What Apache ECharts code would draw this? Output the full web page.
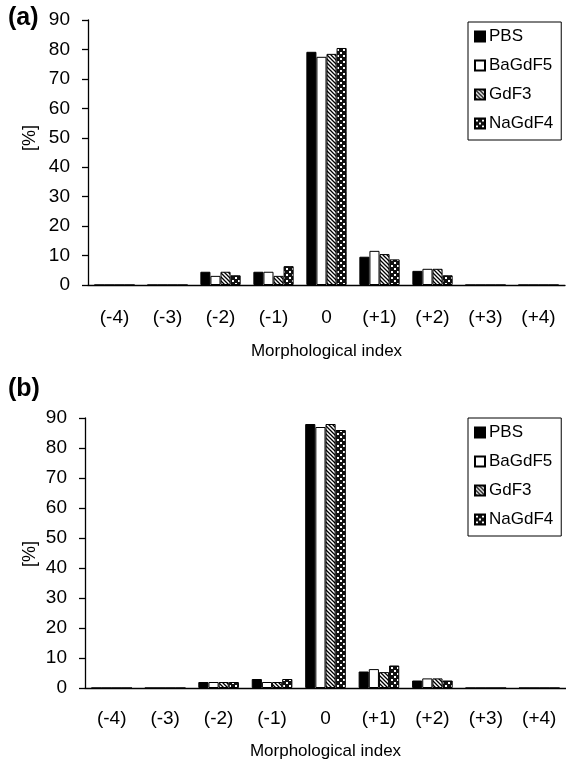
<!DOCTYPE html>
<html>
<head>
<meta charset="utf-8">
<script src="https://cdn.jsdelivr.net/npm/echarts@6/dist/echarts.min.js"></script>
<style>
  html, body { margin: 0; padding: 0; background: #fff; }
  #chart { width: 566px; height: 772px; }
</style>
</head>
<body>
<div id="chart"></div>
<script>
// categories and values
const categories = ['(-4)', '(-3)', '(-2)', '(-1)', '0', '(+1)', '(+2)', '(+3)', '(+4)']
const seriesNames = ['PBS', 'BaGdF5', 'GdF3', 'NaGdF4']
const yTicks = [0, 10, 20, 30, 40, 50, 60, 70, 80, 90]

// panel (a)
const aPBS = [0, 0, 4.5, 4.5, 79.2, 9.6, 4.8, 0, 0]
const aBaGdF5 = [0, 0, 3.1, 4.5, 77.5, 11.6, 5.5, 0, 0]
const aGdF3 = [0, 0, 4.5, 3.1, 78.5, 10.5, 5.5, 0, 0]
const aNaGdF4 = [0, 0, 3.3, 6.4, 80.5, 8.7, 3.3, 0, 0]

// panel (b)
const bPBS = [0, 0, 2, 3, 88, 5.5, 2.5, 0, 0]
const bBaGdF5 = [0, 0, 2, 2, 87, 6.3, 3.2, 0, 0]
const bGdF3 = [0, 0, 2, 2, 88, 5.3, 3.2, 0, 0]
const bNaGdF4 = [0, 0, 2, 3, 86, 7.5, 2.5, 0, 0]

// fill patterns
const makePattern = (draw, size) => {
    const c = document.createElement('canvas')
    c.width = size
    c.height = size
    const ctx = c.getContext('2d')
    draw(ctx, size)
    return { image: c, repeat: 'repeat' }
}

const hatch = makePattern((ctx, s) => {
    ctx.fillStyle = '#fff'
    ctx.fillRect(0, 0, s, s)
    ctx.strokeStyle = '#000'
    ctx.lineWidth = 1.3
    ctx.beginPath()
    ctx.moveTo(-1, -1); ctx.lineTo(s + 1, s + 1)
    ctx.moveTo(-1, s - 1); ctx.lineTo(1, s + 1)
    ctx.moveTo(s - 1, -1); ctx.lineTo(s + 1, 1)
    ctx.stroke()
}, 4)

const checker = makePattern((ctx, s) => {
    ctx.fillStyle = '#111'
    ctx.fillRect(0, 0, s, s)
    ctx.fillStyle = '#fff'
    ctx.fillRect(1, 1, 2, 2)
    ctx.fillRect(4, 4, 2, 2)
}, 6)

const fills = ['#000', '#fff', hatch, checker]
const font = 'Liberation Sans'

const makeSeries = (values, gridIndex) => values.map((data, i) => ({
    name: seriesNames[i],
    type: 'bar',
    xAxisIndex: gridIndex,
    yAxisIndex: gridIndex,
    data: data,
    barGap: '0%',
    barCategoryGap: '24%',
    itemStyle: { color: fills[i], borderColor: '#000', borderWidth: 1 },
    emphasis: { disabled: true },
}))

const xAxisFor = (gridIndex, labelMargin, nameGap) => ({
    type: 'category',
    gridIndex: gridIndex,
    data: categories,
    name: 'Morphological index',
    nameLocation: 'middle',
    nameGap: nameGap,
    nameTextStyle: { fontFamily: font, fontSize: 17, color: '#000' },
    axisLine: { lineStyle: { color: '#000', width: 1.3 } },
    axisTick: { length: 6, lineStyle: { color: '#000', width: 1.3 } },
    axisLabel: { fontFamily: font, fontSize: 19, color: '#000', margin: labelMargin, interval: 0 },
})

const yAxisFor = (gridIndex) => ({
    type: 'value',
    gridIndex: gridIndex,
    min: yTicks[0],
    max: yTicks[yTicks.length - 1],
    interval: yTicks[1] - yTicks[0],
    splitLine: { show: false },
    axisLine: { show: true, lineStyle: { color: '#000', width: 1.3 } },
    axisTick: { show: true, length: 6, lineStyle: { color: '#000', width: 1.3 } },
    axisLabel: { fontFamily: font, fontSize: 19, color: '#000', margin: 18 },
})

const legendFor = (top) => ({
    orient: 'vertical',
    left: 468,
    top: top,
    width: 92,
    data: seriesNames,
    icon: 'rect',
    itemWidth: 10,
    itemHeight: 10,
    itemGap: 12,
    padding: [6, 8, 8, 6],
    borderColor: '#000',
    borderWidth: 1,
    selectedMode: false,
    textStyle: { fontFamily: font, fontSize: 17, color: '#000', padding: [0, 0, 0, -1] },
})

const chart = echarts.init(document.getElementById('chart'))
chart.setOption({
    animation: false,
    grid: [
        { left: 88, right: 1, top: 20, height: 265 },
        { left: 85, right: 0, top: 418, height: 270 },
    ],
    xAxis: [xAxisFor(0, 23, 58), xAxisFor(1, 21, 55)],
    yAxis: [yAxisFor(0), yAxisFor(1)],
    legend: [legendFor(22), legendFor(418)],
    graphic: [
        { type: 'text', left: 8, top: 6, style: { text: '(a)', fontFamily: font, fontSize: 25, fontWeight: 'bold', fill: '#000' } },
        { type: 'text', left: 8, top: 377, style: { text: '(b)', fontFamily: font, fontSize: 25, fontWeight: 'bold', fill: '#000' } },
        { type: 'text', x: 30, y: 138, rotation: Math.PI / 2, style: { text: '[%]', fontFamily: font, fontSize: 18, fill: '#000', align: 'center', verticalAlign: 'middle' } },
        { type: 'text', x: 30, y: 554, rotation: Math.PI / 2, style: { text: '[%]', fontFamily: font, fontSize: 18, fill: '#000', align: 'center', verticalAlign: 'middle' } },
    ],
    series: [
        ...makeSeries([aPBS, aBaGdF5, aGdF3, aNaGdF4], 0),
        ...makeSeries([bPBS, bBaGdF5, bGdF3, bNaGdF4], 1),
    ],
})
</script>
</body>
</html>
